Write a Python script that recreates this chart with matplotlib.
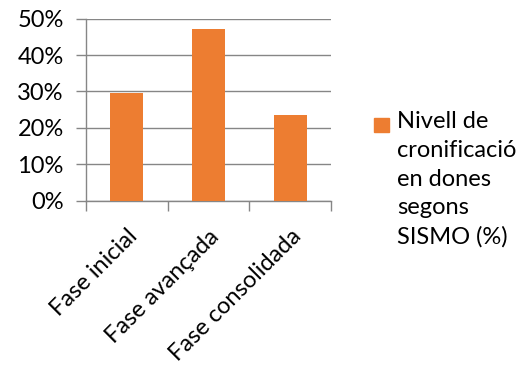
import matplotlib
matplotlib.use('Agg')
import matplotlib.pyplot as plt
from matplotlib.patches import Rectangle

categories = ['Fase inicial', 'Fase avançada', 'Fase consolidada']
values = [29.6, 47.2, 23.5]
yticks = [0, 10, 20, 30, 40, 50]
legend_label = 'Nivell de\ncronificació\nen dones\nsegons\nSISMO (%)'

orange = '#ED7D31'
grey = '#868686'

plt.rcParams['font.family'] = ['Lato', 'DejaVu Sans']
fs = 17

fig = plt.figure(figsize=(5.24, 3.65), dpi=100)
ax = fig.add_axes([0.164, 0.450, 0.468, 0.499])

x = range(len(categories))
ax.bar(x, values, width=0.40, color=orange, zorder=3)

ax.set_xlim(-0.5, len(categories) - 0.5)
ax.set_ylim(0, 50)
ax.set_yticks(yticks)
ax.set_yticklabels([f'{v}%' for v in yticks])
ax.yaxis.grid(True, color=grey, linewidth=1)
ax.set_axisbelow(True)

ax.set_xticks(list(x))
ax.set_xticklabels(categories, rotation=45, ha='right', rotation_mode='anchor')
ax.set_xticks([i - 0.5 for i in range(len(categories) + 1)], minor=True)
ax.tick_params(axis='x', which='major', length=0, pad=18, labelsize=fs, colors='black')
ax.tick_params(axis='x', which='minor', length=7, width=1, color=grey, direction='out')
ax.tick_params(axis='y', length=7, width=1, color=grey, pad=9, labelsize=fs)

for s in ['top', 'right']:
    ax.spines[s].set_visible(False)
for s in ['left', 'bottom']:
    ax.spines[s].set_color(grey)
    ax.spines[s].set_linewidth(1)

# legend key and text
fig.patches.append(Rectangle((0.714, 0.638), 0.0286, 0.038, color=orange,
                             transform=fig.transFigure, figure=fig))
fig.text(0.758, 0.695, legend_label, fontsize=fs, va='top', ha='left',
         linespacing=1.45)

fig.savefig('out.png', dpi=100)
